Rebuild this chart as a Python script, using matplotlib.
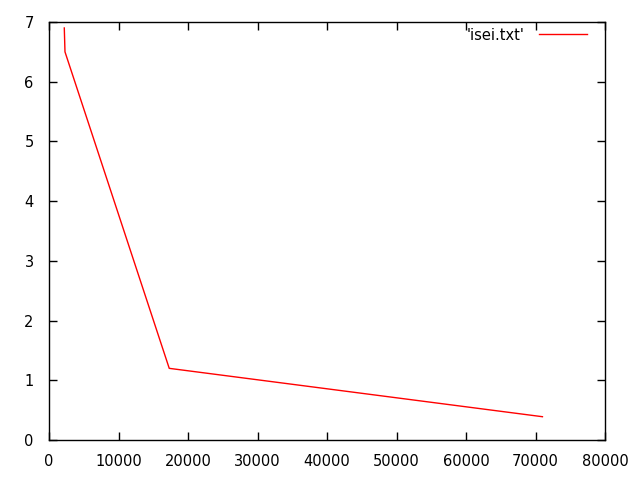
import matplotlib
matplotlib.use("Agg")
import matplotlib.pyplot as plt

# data (gnuplot-style 'isei.txt')
xs = [2200, 2300, 17300, 71000]
ys = [6.90, 6.50, 1.20, 0.39]
x_ticks = [0, 10000, 20000, 30000, 40000, 50000, 60000, 70000, 80000]
y_ticks = [0, 1, 2, 3, 4, 5, 6, 7]
label = "'isei.txt'"

plt.rcParams["font.family"] = ["DejaVu Sans"]
fig = plt.figure(figsize=(6.4, 4.8), dpi=100)
ax = fig.add_axes([49 / 640, 40 / 480, 556 / 640, 418 / 480])

ax.plot(xs, ys, color="#ff0000", linewidth=1, label=label)
ax.set_xlim(0, 80000)
ax.set_ylim(0, 7)
ax.set_xticks(x_ticks)
ax.set_yticks(y_ticks)
ax.tick_params(direction="in", length=6, width=1, labelsize=10.5,
               top=True, right=True)
ax.tick_params(axis="x", pad=10)
ax.tick_params(axis="y", pad=11)
for s in ax.spines.values():
    s.set_linewidth(1)

# legend: text then sample line, anchored in figure pixels
ax.legend(loc="center right", bbox_to_anchor=(587 / 640, 1 - 35 / 480),
          bbox_transform=fig.transFigure, frameon=False, markerfirst=False,
          fontsize=10.5, handlelength=3.3, handletextpad=1.0,
          borderpad=0, borderaxespad=0)

fig.savefig("out.png", dpi=100)
